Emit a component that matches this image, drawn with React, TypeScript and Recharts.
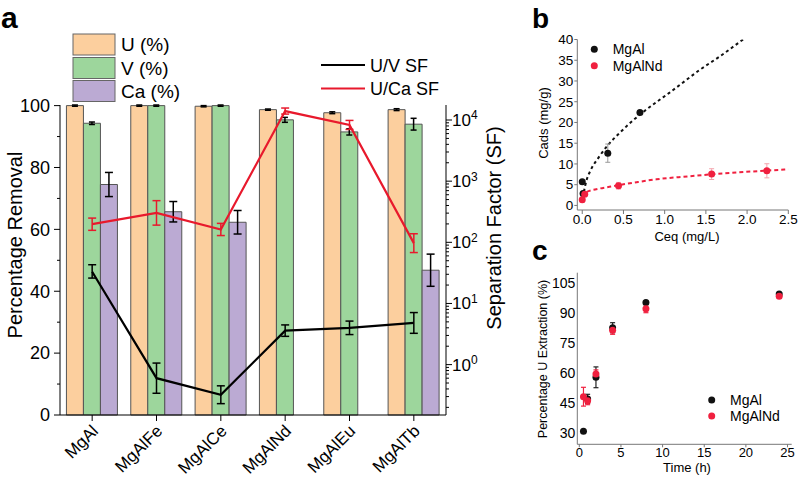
import React from 'react';
import { ComposedChart, Bar, Line, Scatter, XAxis, YAxis, ErrorBar } from 'recharts';

const FONT = '"Liberation Sans", Arial, Helvetica, sans-serif';

// ---- panel a: removal (%) and separation factors ----
const materials = ['MgAl', 'MgAlFe', 'MgAlCe', 'MgAlNd', 'MgAlEu', 'MgAlTb'];
const uRemoval = [100, 100, 99.8, 98.7, 97.7, 98.7];
const uRemovalErr = [0.2, 0.2, 0.2, 0.2, 0.3, 0.3];
const vRemoval = [94.3, 100, 100, 95.4, 91.5, 94.0];
const vRemovalErr = [0.4, 0.2, 0.2, 0.8, 1.0, 1.9];
const caRemoval = [74.5, 65.7, 62.3, null, null, 46.8];
const caRemovalErr = [3.9, 3.3, 3.8, 0, 0, 5.2];
const uvSF = [33, 0.6, 0.32, 3.6, 4.0, 4.8];
const uvSFErr = [[7, 10], [0.26, 0.46], [0.09, 0.13], [0.7, 0.86], [0.9, 1.15], [1.55, 2.3]];
const ucaSF = [198, 303, 162, 14000, 8300, 97];
const ucaSFErr = [[41, 51], [112, 177], [33, 42], [1500, 1700], [1300, 1550], [29, 41]];

const removalTicks = [0, 10, 20, 30, 40, 50, 60, 70, 80, 90, 100];
const sfDecades = [0.1, 1, 10, 100, 1000, 10000];
const sfMinorSteps = [1, 2, 3, 4, 5, 6, 7, 8, 9];
const sfDomain = [0.15, 17600];
const sfTicks = sfDecades
  .flatMap((d) => sfMinorSteps.map((s) => d * s))
  .filter((v) => v >= sfDomain[0] && v <= sfDomain[1]);

// ---- panel b: isotherms ----
const ceqMgAl = [0.0, 0.01, 0.31, 0.7];
const cadsMgAl = [5.7, 2.9, 12.6, 22.4];
const cadsMgAlErr = [0.3, 0.3, 2.2, 0.4];
const ceqMgAlNd = [0.0, 0.03, 0.44, 1.57, 2.24];
const cadsMgAlNd = [1.4, 2.7, 4.75, 7.55, 8.35];
const cadsMgAlNdErr = [0.5, 0.4, 0.8, 1.3, 1.7];
const fitCeqMgAl = [0.02, 0.05, 0.1, 0.2, 0.31, 0.46, 0.7, 0.9, 1.06, 1.26, 1.42, 1.66, 1.95];
const fitCadsMgAl = [3.3, 5.9, 8.4, 11.6, 14.5, 17.6, 21.9, 24.9, 27.2, 30.2, 32.6, 35.8, 40];
const fitCeqMgAlNd = [0, 0.05, 0.17, 0.33, 0.66, 0.9, 1.28, 1.57, 1.99, 2.5];
const fitCadsMgAlNd = [2, 3.2, 3.9, 4.5, 5.6, 6.3, 7, 7.5, 8.1, 8.7];
const ceqTicks = [0, 0.5, 1, 1.5, 2, 2.5];
const cadsTicks = [0, 5, 10, 15, 20, 25, 30, 35, 40];

// ---- panel c: kinetics ----
const timeH = [0.5, 1, 2, 4, 8, 24];
const extMgAl = [31, 47.2, 58, 82.8, 95.4, 99.6];
const extMgAlErr = [0.6, 2.3, 5.2, 2.5, 0.6, 0.6];
const extMgAlNd = [48.3, 46.3, 59.7, 81.5, 92.3, 98.5];
const extMgAlNdErr = [4.7, 2, 2, 2, 2, 0.7];
const timeTicks = [0, 5, 10, 15, 20, 25];
const extTicks = [30, 45, 60, 75, 90, 105];

const C_U = '#FCCF9E';
const C_V = '#9DD69C';
const C_CA = '#BBAAD3';
const C_RED = '#E8192C';
const C_RED2 = '#F0203F';

const removalData = materials.map((name, i) => ({
  name,
  u: uRemoval[i],
  uErr: uRemovalErr[i],
  v: vRemoval[i],
  vErr: vRemovalErr[i],
  ca: caRemoval[i],
  caErr: caRemovalErr[i],
  uv: uvSF[i],
  uvErr: uvSFErr[i],
  uca: ucaSF[i],
  ucaErr: ucaSFErr[i],
}));

const pts = (xs: number[], ys: number[], errs?: number[]) =>
  xs.map((x, i) => ({ x, y: ys[i], err: errs ? errs[i] : 0 }));

const isoMgAl = pts(ceqMgAl, cadsMgAl, cadsMgAlErr);
const isoMgAlNd = pts(ceqMgAlNd, cadsMgAlNd, cadsMgAlNdErr);
const fitMgAl = pts(fitCeqMgAl, fitCadsMgAl);
const fitMgAlNd = pts(fitCeqMgAlNd, fitCadsMgAlNd);
const kinMgAl = pts(timeH, extMgAl, extMgAlErr);
const kinMgAlNd = pts(timeH, extMgAlNd, extMgAlNdErr);

const LeftTick = ({ x, y, payload }: any) => {
  const major = payload.value % 20 === 0;
  const axisX = x + 10;
  return (
    <g>
      <line x1={axisX - (major ? 6 : 3)} x2={axisX} y1={y} y2={y} stroke="#000" />
      {major && (
        <text x={x} y={y} dy="0.35em" textAnchor="end" fontSize={18} fill="#000">
          {payload.value}
        </text>
      )}
    </g>
  );
};

const RightTick = ({ x, y, payload }: any) => {
  const axisX = x - 6;
  const lg = Math.log10(payload.value);
  const exp = Math.round(lg);
  const major = Math.abs(lg - exp) < 1e-6;
  return (
    <g>
      <line x1={axisX} x2={axisX + (major ? 6 : 3)} y1={y} y2={y} stroke="#000" />
      {major && (
        <text x={axisX + 6} y={y} dy="0.35em" fontSize={17} fill="#000">
          10
          <tspan dy="-0.55em" fontSize={12}>{exp}</tspan>
        </text>
      )}
    </g>
  );
};

const RotTick = ({ x, y, payload }: any) => (
  <text
    transform={`translate(${x + 7},${y + 9}) rotate(-45)`}
    textAnchor="end"
    fontSize={17}
    fill="#000"
  >
    {payload.value}
  </text>
);

const dot = (color: string) => (p: any) => <circle cx={p.cx} cy={p.cy} r={3.5} fill={color} />;

function PanelA() {
  return (
    <ComposedChart
      width={520}
      height={481}
      data={removalData}
      margin={{ top: 105, right: 14, bottom: 0, left: 0 }}
      barCategoryGap="10%"
      barGap={0}
    >
      <XAxis
        dataKey="name"
        height={66}
        interval={0}
        tick={<RotTick />}
        tickLine={{ stroke: '#000' }}
        axisLine={{ stroke: '#000' }}
      />
      <XAxis xAxisId="top" dataKey="name" orientation="top" height={0} tick={false} tickLine={false} axisLine={{ stroke: '#000' }} />
      <YAxis
        yAxisId="left"
        width={60}
        domain={[0, 100]}
        ticks={removalTicks}
        interval={0}
        tickSize={6}
        tickMargin={4}
        tickLine={false}
        tick={<LeftTick />}
        axisLine={{ stroke: '#000' }}
      />
      <YAxis
        yAxisId="right"
        orientation="right"
        width={60}
        scale="log"
        type="number"
        domain={sfDomain}
        allowDataOverflow
        ticks={sfTicks}
        interval={0}
        tickSize={6}
        tickMargin={0}
        tickLine={false}
        tick={<RightTick />}
        axisLine={{ stroke: '#000' }}
      />
      <Bar yAxisId="left" dataKey="u" fill={C_U} stroke="#555" strokeWidth={1} isAnimationActive={false}>
        <ErrorBar dataKey="uErr" width={3} stroke="#000" strokeWidth={1.5} />
      </Bar>
      <Bar yAxisId="left" dataKey="v" fill={C_V} stroke="#555" strokeWidth={1} isAnimationActive={false}>
        <ErrorBar dataKey="vErr" width={3} stroke="#000" strokeWidth={1.5} />
      </Bar>
      <Bar yAxisId="left" dataKey="ca" fill={C_CA} stroke="#555" strokeWidth={1} isAnimationActive={false}>
        <ErrorBar dataKey="caErr" width={4} stroke="#000" strokeWidth={1.5} />
      </Bar>
      <Line yAxisId="right" dataKey="uv" stroke="#000" strokeWidth={2.2} dot={false} type="linear" isAnimationActive={false}>
        <ErrorBar dataKey="uvErr" width={4} stroke="#000" strokeWidth={1.5} />
      </Line>
      <Line yAxisId="right" dataKey="uca" stroke={C_RED} strokeWidth={2.2} dot={false} type="linear" isAnimationActive={false}>
        <ErrorBar dataKey="ucaErr" width={4} stroke={C_RED} strokeWidth={1.5} />
      </Line>
    </ComposedChart>
  );
}

function PanelB() {
  const ax = { stroke: '#777' };
  return (
    <ComposedChart width={280} height={250} margin={{ top: 39.5, right: 11.7, bottom: 0, left: 0 }}>
      <XAxis
        type="number"
        dataKey="x"
        domain={[-0.06, 2.5]}
        allowDataOverflow
        ticks={ceqTicks}
        interval={0}
        height={40}
        tickSize={4}
        tickMargin={0}
        tickLine={ax}
        axisLine={ax}
        tick={{ fill: '#000', fontSize: 13.5 }}
        tickFormatter={(v: number) => v.toFixed(1)}
      />
      <XAxis xAxisId="f" type="number" orientation="top" domain={[-0.06, 2.5]} allowDataOverflow height={0} tick={false} tickLine={false} axisLine={ax} />
      <YAxis
        type="number"
        dataKey="y"
        domain={[-1.1, 40]}
        allowDataOverflow
        ticks={cadsTicks}
        interval={0}
        width={57.3}
        tickSize={3}
        tickMargin={1}
        tickLine={ax}
        axisLine={ax}
        tick={{ fill: '#000', fontSize: 13.5 }}
      />
      <YAxis yAxisId="f" type="number" orientation="right" domain={[-1.1, 40]} allowDataOverflow width={0} tick={false} tickLine={false} axisLine={ax} />
      <Line data={fitMgAl} dataKey="y" type="monotone" stroke="#111" strokeWidth={2} strokeDasharray="3 3" dot={false} isAnimationActive={false} />
      <Line data={fitMgAlNd} dataKey="y" type="monotone" stroke={C_RED2} strokeWidth={2} strokeDasharray="4 3" dot={false} isAnimationActive={false} />
      <Scatter data={isoMgAl} dataKey="y" shape={dot('#111')} isAnimationActive={false}>
        <ErrorBar dataKey="err" direction="y" width={2.5} stroke="#999" strokeWidth={1} />
      </Scatter>
      <Scatter data={isoMgAlNd} dataKey="y" shape={dot(C_RED2)} isAnimationActive={false}>
        <ErrorBar dataKey="err" direction="y" width={2.5} stroke="#F4A3AC" strokeWidth={1} />
      </Scatter>
    </ComposedChart>
  );
}

function PanelC() {
  const ax = { stroke: '#777' };
  return (
    <ComposedChart width={280} height={241} margin={{ top: 32.7, right: 8.3, bottom: 0, left: 0 }}>
      <XAxis
        type="number"
        dataKey="x"
        domain={[-0.24, 25.5]}
        allowDataOverflow
        ticks={timeTicks}
        interval={0}
        height={36.7}
        tickSize={3}
        tickMargin={0}
        tickLine={ax}
        axisLine={ax}
        tick={{ fill: '#000', fontSize: 13 }}
      />
      <XAxis xAxisId="f" type="number" orientation="top" domain={[-0.24, 25.5]} allowDataOverflow height={0} tick={false} tickLine={false} axisLine={ax} />
      <YAxis
        type="number"
        dataKey="y"
        domain={[24.5, 110.3]}
        allowDataOverflow
        ticks={extTicks}
        interval={0}
        width={57.3}
        tickSize={0}
        tickMargin={2}
        tickLine={false}
        axisLine={ax}
        tick={{ fill: '#000', fontSize: 14 }}
      />
      <YAxis yAxisId="f" type="number" orientation="right" domain={[24.5, 110.3]} allowDataOverflow width={0} tick={false} tickLine={false} axisLine={ax} />
      <Scatter data={kinMgAl} dataKey="y" shape={dot('#111')} isAnimationActive={false}>
        <ErrorBar dataKey="err" direction="y" width={2.5} stroke="#222" strokeWidth={1.2} />
      </Scatter>
      <Scatter data={kinMgAlNd} dataKey="y" shape={dot(C_RED2)} isAnimationActive={false}>
        <ErrorBar dataKey="err" direction="y" width={2.5} stroke={C_RED2} strokeWidth={1.2} />
      </Scatter>
    </ComposedChart>
  );
}

function Overlay() {
  return (
    <svg width={800} height={481} style={{ position: 'absolute', left: 0, top: 0, pointerEvents: 'none' }} fontFamily={FONT}>
      <text x={1} y={28} fontSize={30} fontWeight="bold">a</text>
      <text x={532} y={28} fontSize={28} fontWeight="bold">b</text>
      <text x={532} y={260} fontSize={28} fontWeight="bold">c</text>

      {/* panel a legends */}
      <rect x={73} y={34} width={42} height={21} fill={C_U} stroke="#666" />
      <rect x={73} y={57.5} width={42} height={21} fill={C_V} stroke="#666" />
      <rect x={73} y={80.5} width={42} height={21} fill={C_CA} stroke="#666" />
      <text x={121} y={51} fontSize={19}>U (%)</text>
      <text x={121} y={74.5} fontSize={19}>V (%)</text>
      <text x={121} y={97.5} fontSize={19}>Ca (%)</text>
      <line x1={321} x2={365} y1={65} y2={65} stroke="#000" strokeWidth={2.2} />
      <line x1={321} x2={365} y1={88.5} y2={88.5} stroke={C_RED} strokeWidth={2.2} />
      <text x={370} y={71.5} fontSize={18}>U/V SF</text>
      <text x={370} y={95} fontSize={18}>U/Ca SF</text>

      {/* panel a axis titles */}
      <text transform="translate(15,245) rotate(-90)" textAnchor="middle" dy="0.35em" fontSize={20}>Percentage Removal</text>
      <text transform="translate(494,228) rotate(-90)" textAnchor="middle" dy="0.35em" fontSize={20}>Separation Factor (SF)</text>

      {/* panel b */}
      <circle cx={594.3} cy={49.3} r={3.5} fill="#111" />
      <circle cx={594.3} cy={65.7} r={3.5} fill={C_RED2} />
      <text x={612.7} y={54.3} fontSize={14}>MgAl</text>
      <text x={612.7} y={70.7} fontSize={14}>MgAlNd</text>
      <text transform="translate(543.5,123) rotate(-90)" textAnchor="middle" dy="0.35em" fontSize={13}>Cads (mg/g)</text>
      <text x={687} y={240.5} textAnchor="middle" fontSize={13}>Ceq (mg/L)</text>

      {/* panel c */}
      <circle cx={711.7} cy={400} r={3.5} fill="#111" />
      <circle cx={711.7} cy={416} r={3.5} fill={C_RED2} />
      <text x={730} y={405} fontSize={14}>MgAl</text>
      <text x={730} y={421} fontSize={14}>MgAlNd</text>
      <text transform="translate(542.5,359) rotate(-90)" textAnchor="middle" dy="0.35em" fontSize={12.5}>Percentage U Extraction (%)</text>
      <text x={687} y={472} textAnchor="middle" fontSize={13}>Time (h)</text>
    </svg>
  );
}

export default function App() {
  return (
    <div style={{ position: 'absolute', left: 0, top: 0, width: 800, height: 481, background: '#fff', fontFamily: FONT }}>
      <div style={{ position: 'absolute', left: 0, top: 0 }}>
        <PanelA />
      </div>
      <div style={{ position: 'absolute', left: 520, top: 0 }}>
        <PanelB />
      </div>
      <div style={{ position: 'absolute', left: 520, top: 240 }}>
        <PanelC />
      </div>
      <Overlay />
    </div>
  );
}
